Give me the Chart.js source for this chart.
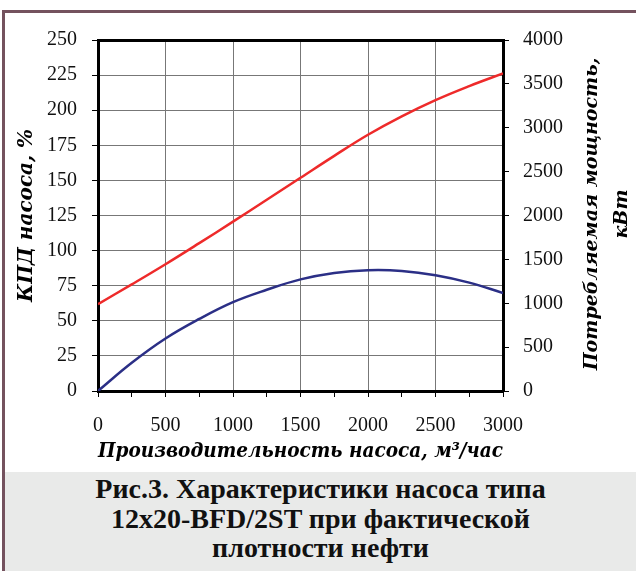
<!DOCTYPE html>
<html>
<head>
<meta charset="utf-8">
<script src="https://cdn.jsdelivr.net/npm/chart.js@4"></script>
<style>
  body { margin: 0; width: 636px; height: 571px; background: #fff; position: relative; overflow: hidden; }
  #frame { position: absolute; left: 2px; top: 10px; width: 640px; height: 570px;
           border-left: 3px solid #74525e; border-top: 3px solid #74525e; }
  #chart { position: absolute; left: 5px; top: 13px; }
  #rightTitle { position: absolute; left: 405px; top: 184px; width: 400px; height: 60px; white-space: nowrap;
                font: italic bold 19px "DejaVu Serif", serif; line-height: 30px; text-align: center;
                transform: rotate(-90deg); transform-origin: 200px 30px; color: #000; }
  #caption { position: absolute; left: 5px; top: 472px; width: 631px; height: 99px; background: #e9eae9;
             font: bold 28px "Liberation Serif", serif; line-height: 29.5px; text-align: center; color: #111;
             padding-top: 2px; box-sizing: border-box; white-space: nowrap; }
</style>
</head>
<body>
<div id="frame"></div>
<canvas id="chart" width="631" height="457"></canvas>
<div id="rightTitle">Потребляемая мощность,<br>кВт</div>
<div id="caption">Рис.3. Характеристики насоса типа<br>12x20-BFD/2ST при фактической<br>плотности нефти</div>
<script>
const flow = [0, 250, 500, 750, 1000, 1250, 1500, 1750, 2000, 2250, 2500, 2750, 3000];
const efficiency = [0, 20.1, 37.4, 51.3, 63.3, 72.1, 79.5, 84.1, 86.0, 85.5, 82.5, 77.2, 69.8];
const power = [990, 1215, 1445, 1685, 1930, 2180, 2430, 2680, 2920, 3130, 3315, 3475, 3620];

const tickFont = { family: "Liberation Serif", size: 20 };
const titleFont = { family: "DejaVu Serif", size: 20, style: "italic", weight: "bold" };

const drawChart = () => {
  const ctx = document.getElementById("chart").getContext("2d");
  new Chart(ctx, {
    type: "line",
    data: {
      datasets: [
        {
          label: "КПД",
          data: flow.map((x, i) => ({ x, y: efficiency[i] })),
          borderColor: "#2b2f86",
          borderWidth: 2.5,
          yAxisID: "y",
        },
        {
          label: "Мощность",
          data: flow.map((x, i) => ({ x, y: power[i] })),
          borderColor: "#ee2a2a",
          borderWidth: 2.5,
          yAxisID: "y1",
        },
      ],
    },
    options: {
      responsive: false,
      animation: false,
      layout: { padding: { left: 0, right: 0, top: 17, bottom: 0 } },
      elements: {
        point: { radius: 0 },
        line: { tension: 0.4 },
      },
      plugins: { legend: { display: false }, tooltip: { enabled: false } },
      scales: {
        x: {
          type: "linear",
          min: 0,
          max: 3000,
          ticks: {
            stepSize: 250,
            font: tickFont,
            color: "#111",
            padding: 17,
            maxRotation: 0,
            autoSkip: false,
            callback: (v) => (v % 500 === 0 ? String(v) : ""),
          },
          grid: {
            color: (c) => (c.tick && c.tick.value % 500 === 0 ? "#777" : "transparent"),
            lineWidth: (c) => (c.tick && c.tick.value === 3000 ? 3 : 1),
            tickColor: "#000",
            tickWidth: 1,
            tickLength: 6,
          },
          border: { color: "#000", width: 3 },
          title: { display: true, text: "Производительность насоса, м³/час", font: titleFont, color: "#000", padding: { top: 0, bottom: 6 } },
          afterFit: (s) => { s.height = 79; },
        },
        y: {
          position: "left",
          min: 0,
          max: 250,
          ticks: { stepSize: 25, font: tickFont, color: "#111", padding: 15 },
          grid: {
            color: (c) => (c.tick && c.tick.value === 250 ? "#000" : "#777"),
            lineWidth: (c) => (c.tick && c.tick.value === 250 ? 3 : 1),
            tickColor: "#000",
            tickWidth: 1,
            tickLength: 6,
          },
          border: { color: "#000", width: 3 },
          title: { display: true, text: "КПД насоса, %", font: titleFont, color: "#000", padding: { top: 10, bottom: 0 } },
          afterFit: (s) => { s.width = 93; },
        },
        y1: {
          position: "right",
          min: 0,
          max: 4000,
          ticks: { stepSize: 500, font: tickFont, color: "#111", padding: 14, callback: (v) => String(v) },
          grid: { drawOnChartArea: false, tickColor: "#000", tickWidth: 1, tickLength: 6 },
          border: { color: "#000", width: 3 },
          afterFit: (s) => { s.width = 133; },
        },
      },
    },
  });
};

document.addEventListener("DOMContentLoaded", drawChart);
</script>
</body>
</html>
